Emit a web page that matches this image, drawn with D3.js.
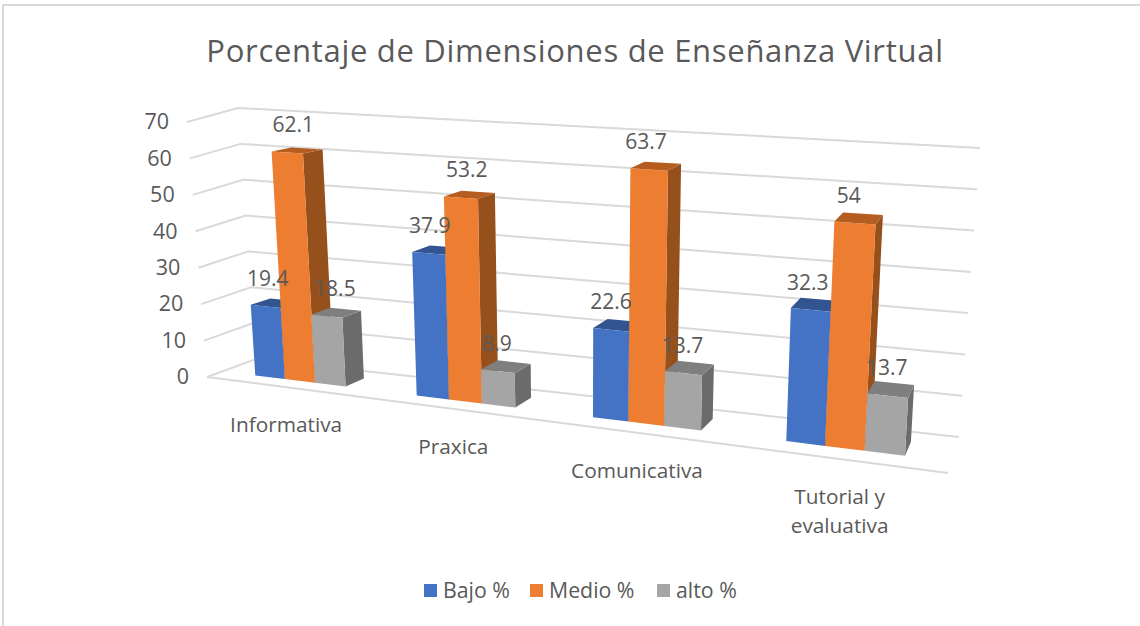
<!DOCTYPE html>
<html>
<head>
<meta charset="utf-8">
<script src="https://cdn.jsdelivr.net/npm/d3@7"></script>
<style>
  html, body { margin: 0; background: #fff; }
  text { font-family: "Open Sans", sans-serif; fill: #595959; }
</style>
</head>
<body>
<div id="chart"></div>
<script>
const chartTitle = 'Porcentaje de Dimensiones de Enseñanza Virtual';
const categories = [['Informativa'], ['Praxica'], ['Comunicativa'], ['Tutorial y', 'evaluativa']];
const seriesNames = ['Bajo %', 'Medio %', 'alto %'];
const bajo = [19.4, 37.9, 22.6, 32.3];
const medio = [62.1, 53.2, 63.7, 54];
const alto = [18.5, 8.9, 13.7, 13.7];
const yTicks = [0, 10, 20, 30, 40, 50, 60, 70];

const width = 1140, height = 626;
const fills = [
  { front: '#4472c4', top: '#325591', side: '#2c4a80' },
  { front: '#ed7d31', top: '#b55d20', side: '#96501c' },
  { front: '#a5a5a5', top: '#7f7f7f', side: '#6b6b6b' }
];
// label drift per group, per series (the original placement is not regular)
const labelNudge = [
  [[2, 0], [6, 0], [8, 0]],
  [[1, 0], [6, 0], [-1, 0]],
  [[0, 0], [-3, 0], [-1, 0]],
  [[-3, 0], [-6, 0], [-1, 0]]
];

const svg = d3.select('#chart').append('svg')
  .attr('width', width)
  .attr('height', height)
  .attr('viewBox', [0, 0, width, height])
  .style('display', 'block');

// frame, only top and left show in the picture
svg.append('path')
  .attr('d', `M3,${height}V5H${width}`)
  .attr('fill', 'none')
  .attr('stroke', '#d9d9d9')
  .attr('stroke-width', 2);

svg.append('text')
  .attr('x', 575)
  .attr('y', 62)
  .attr('text-anchor', 'middle')
  .attr('font-size', 31)
  .attr('letter-spacing', 0.7)
  .text(chartTitle);

// --- perspective box: unit square (u along categories, w into the page) to screen quad ---
function quadMap(p00, p10, p11, p01) {
  const dx1 = p10[0] - p11[0], dx2 = p01[0] - p11[0], sx = p00[0] - p10[0] + p11[0] - p01[0];
  const dy1 = p10[1] - p11[1], dy2 = p01[1] - p11[1], sy = p00[1] - p10[1] + p11[1] - p01[1];
  const det = dx1 * dy2 - dx2 * dy1;
  const g = (sx * dy2 - dx2 * sy) / det;
  const h = (dx1 * sy - sx * dy1) / det;
  const a = p10[0] - p00[0] + g * p10[0], b = p01[0] - p00[0] + h * p01[0];
  const d = p10[1] - p00[1] + g * p10[1], e = p01[1] - p00[1] + h * p01[1];
  return (u, w) => {
    const k = g * u + h * w + 1;
    return [(a * u + b * w + p00[0]) / k, (d * u + e * w + p00[1]) / k];
  };
}

// corners: front-left, front-right, back-right, back-left
const floorMap = quadMap([207, 377], [948, 473], [959, 437], [256, 359]);
const ceilMap = quadMap([187, 122], [969, 177], [980, 148], [238, 108]);
const tScale = d3.scaleLinear().domain([0, 70]).range([0, 1]);

function project(u, w, v) {
  const a = floorMap(u, w), b = ceilMap(u, w), t = tScale(v);
  return [a[0] + (b[0] - a[0]) * t, a[1] + (b[1] - a[1]) * t];
}
// the corners overstate the foreshortening along u, ease it for the bars
const ease = 0.31;
const warp = u => (1 + ease) * u / (1 + ease * u);

// bars rise from the floor: verticals fan out from x=585, taller to the right, shorter further back
function projectBar(u, w, v) {
  const f = floorMap(warp(u), w), t = tScale(v);
  const rise = 256 + 0.063 * (f[0] - 207) - 14 * w;
  return [f[0] + (f[0] - 585) * 0.05 * t, f[1] - rise * t];
}

const poly = pts => 'M' + pts.map(p => p.map(n => n.toFixed(1)).join(',')).join('L') + 'Z';
const line = pts => 'M' + pts.map(p => p.map(n => n.toFixed(1)).join(',')).join('L');

// gridlines + tick labels
const gridG = svg.append('g');
yTicks.forEach(t => {
  gridG.append('path')
    .attr('d', line([project(0, 0, t), project(0, 1, t), project(1, 1, t)]))
    .attr('fill', 'none')
    .attr('stroke', '#d9d9d9')
    .attr('stroke-width', 2);
  const p = project(0, 0, t);
  gridG.append('text')
    .attr('x', p[0] - 18)
    .attr('y', p[1] + 1.5)
    .attr('text-anchor', 'end')
    .attr('dominant-baseline', 'middle')
    .attr('font-size', 21.5)
    .text(t);
});
gridG.append('path')
  .attr('d', line([project(0, 0, 0), project(1, 0, 0)]))
  .attr('fill', 'none')
  .attr('stroke', '#d9d9d9')
  .attr('stroke-width', 2);

// bars
const groupX = d3.scaleBand().domain(d3.range(categories.length)).range([0, 1]).paddingInner(0.43).paddingOuter(0.215);
const barX = d3.scaleBand().domain(d3.range(3)).range([0, groupX.bandwidth()]);
const w0 = 0.3, w1 = 0.7;
const allSeries = [bajo, medio, alto];

const barsG = svg.append('g');
const labels = [];
categories.forEach((c, i) => {
  allSeries.forEach((vals, s) => {
    const v = vals[i];
    const u0 = groupX(i) + barX(s), u1 = u0 + barX.bandwidth();
    const f = fills[s];
    const g = barsG.append('g');
    g.append('path').attr('fill', f.side)
      .attr('d', poly([projectBar(u1, w0, 0), projectBar(u1, w1, 0), projectBar(u1, w1, v), projectBar(u1, w0, v)]));
    g.append('path').attr('fill', f.top)
      .attr('d', poly([projectBar(u0, w0, v), projectBar(u1, w0, v), projectBar(u1, w1, v), projectBar(u0, w1, v)]));
    g.append('path').attr('fill', f.front)
      .attr('d', poly([projectBar(u0, w0, 0), projectBar(u1, w0, 0), projectBar(u1, w0, v), projectBar(u0, w0, v)]));
    const p = projectBar((u0 + u1) / 2, w0, v);
    const n = labelNudge[i][s];
    labels.push({ x: p[0] + n[0], y: p[1] - 26 + n[1], text: v });
  });

  // category label hangs off the front floor edge
  const base = floorMap(warp(groupX(i) + groupX.bandwidth() / 2), 0);
  const t = svg.append('text')
    .attr('text-anchor', 'middle')
    .attr('font-size', 20.8);
  c.forEach((line, k) => {
    t.append('tspan')
      .attr('x', base[0] + 1)
      .attr('y', base[1] + 45 + k * 29)
      .text(line);
  });
});

// data labels on top of everything
svg.append('g').selectAll('text').data(labels).join('text')
  .attr('x', d => d.x)
  .attr('y', d => d.y)
  .attr('text-anchor', 'middle')
  .attr('dominant-baseline', 'middle')
  .attr('font-size', 21)
  .text(d => d.text);

// legend
const legendX = [424, 530, 657];
const legendG = svg.append('g');
seriesNames.forEach((name, i) => {
  legendG.append('rect')
    .attr('x', legendX[i])
    .attr('y', 584)
    .attr('width', 13)
    .attr('height', 13)
    .attr('fill', fills[i].front);
  legendG.append('text')
    .attr('x', legendX[i] + 19)
    .attr('y', 592)
    .attr('dominant-baseline', 'middle')
    .attr('font-size', 21.3)
    .text(name);
});
</script>
</body>
</html>
